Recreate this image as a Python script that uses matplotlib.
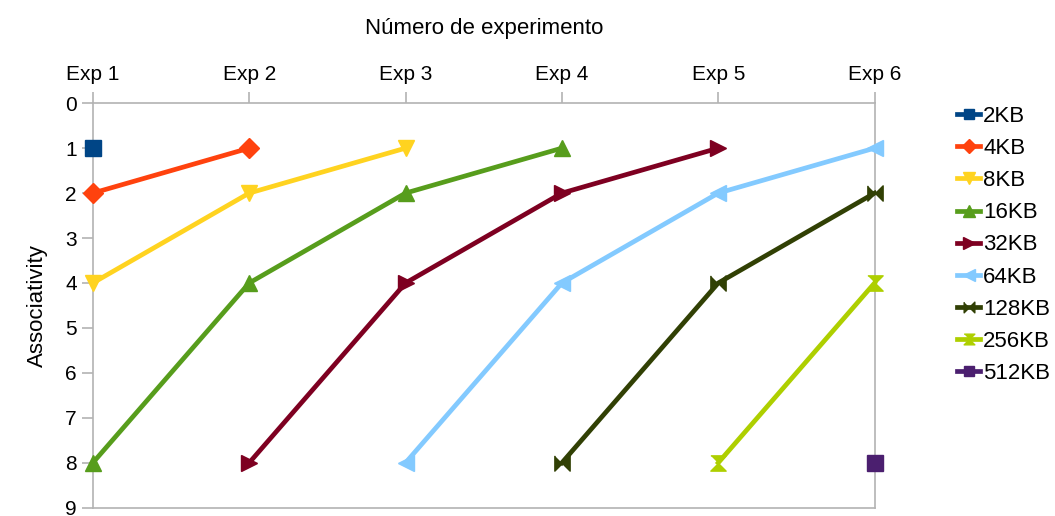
import matplotlib
matplotlib.use("Agg")
import matplotlib.pyplot as plt
import numpy as np

plt.rcParams['font.family'] = ['Liberation Sans', 'DejaVu Sans']

experiments = ["Exp 1", "Exp 2", "Exp 3", "Exp 4", "Exp 5", "Exp 6"]
series_names = ["2KB", "4KB", "8KB", "16KB", "32KB", "64KB", "128KB", "256KB", "512KB"]
nan = np.nan
# associativity per experiment (nan = no value)
s_2kb = [1, nan, nan, nan, nan, nan]
s_4kb = [2, 1, nan, nan, nan, nan]
s_8kb = [4, 2, 1, nan, nan, nan]
s_16kb = [8, 4, 2, 1, nan, nan]
s_32kb = [nan, 8, 4, 2, 1, nan]
s_64kb = [nan, nan, 8, 4, 2, 1]
s_128kb = [nan, nan, nan, 8, 4, 2]
s_256kb = [nan, nan, nan, nan, 8, 4]
s_512kb = [nan, nan, nan, nan, nan, 8]
all_series = [s_2kb, s_4kb, s_8kb, s_16kb, s_32kb, s_64kb, s_128kb, s_256kb, s_512kb]

colors = ["#004586", "#ff420e", "#ffd320", "#579d1c", "#7e0021",
          "#83caff", "#314004", "#aecf00", "#4b1f6f"]
bowtie = [(-1, 1), (-1, -1), (0, 0), (1, -1), (1, 1), (0, 0)]
hourglass = [(-1, 1), (1, 1), (0, 0), (1, -1), (-1, -1), (0, 0)]
markers = ["s", "D", "v", "^", ">", "<", bowtie, hourglass, "s"]
msizes = [11, 10, 12, 12, 12, 12, 11, 11, 11]

fig = plt.figure(figsize=(10.55, 5.16), dpi=100)
ax = fig.add_axes([0.088, 0.016, 0.741, 0.784])

x = np.arange(len(experiments))
for name, ys, c, m, ms in zip(series_names, all_series, colors, markers, msizes):
    ax.plot(x, ys, color=c, lw=3.4, marker=m, markersize=ms, label=name,
            clip_on=False, zorder=3)

ax.set_xlim(0, 5)
ax.set_ylim(9, 0)
ax.set_yticks(range(10))
ax.set_xticks(x)
ax.set_xticklabels(experiments)
ax.xaxis.tick_top()
ax.xaxis.set_label_position("top")
ax.set_xlabel("Número de experimento", fontsize=16, labelpad=22)
ax.set_ylabel("Associativity", fontsize=16, labelpad=12)
ax.tick_params(axis="both", labelsize=15, color="#b3b3b3", length=8, width=1.2)
ax.tick_params(axis="x", pad=6)
for sp in ax.spines.values():
    sp.set_color("#b3b3b3")
    sp.set_linewidth(1.2)

ax.legend(loc="upper left", bbox_to_anchor=(1.106, 0.993), frameon=False,
          fontsize=16, handlelength=1.0, handletextpad=0.15,
          labelspacing=0.5, markerscale=0.7, borderaxespad=0, borderpad=0)

fig.savefig("out.png", dpi=100)
